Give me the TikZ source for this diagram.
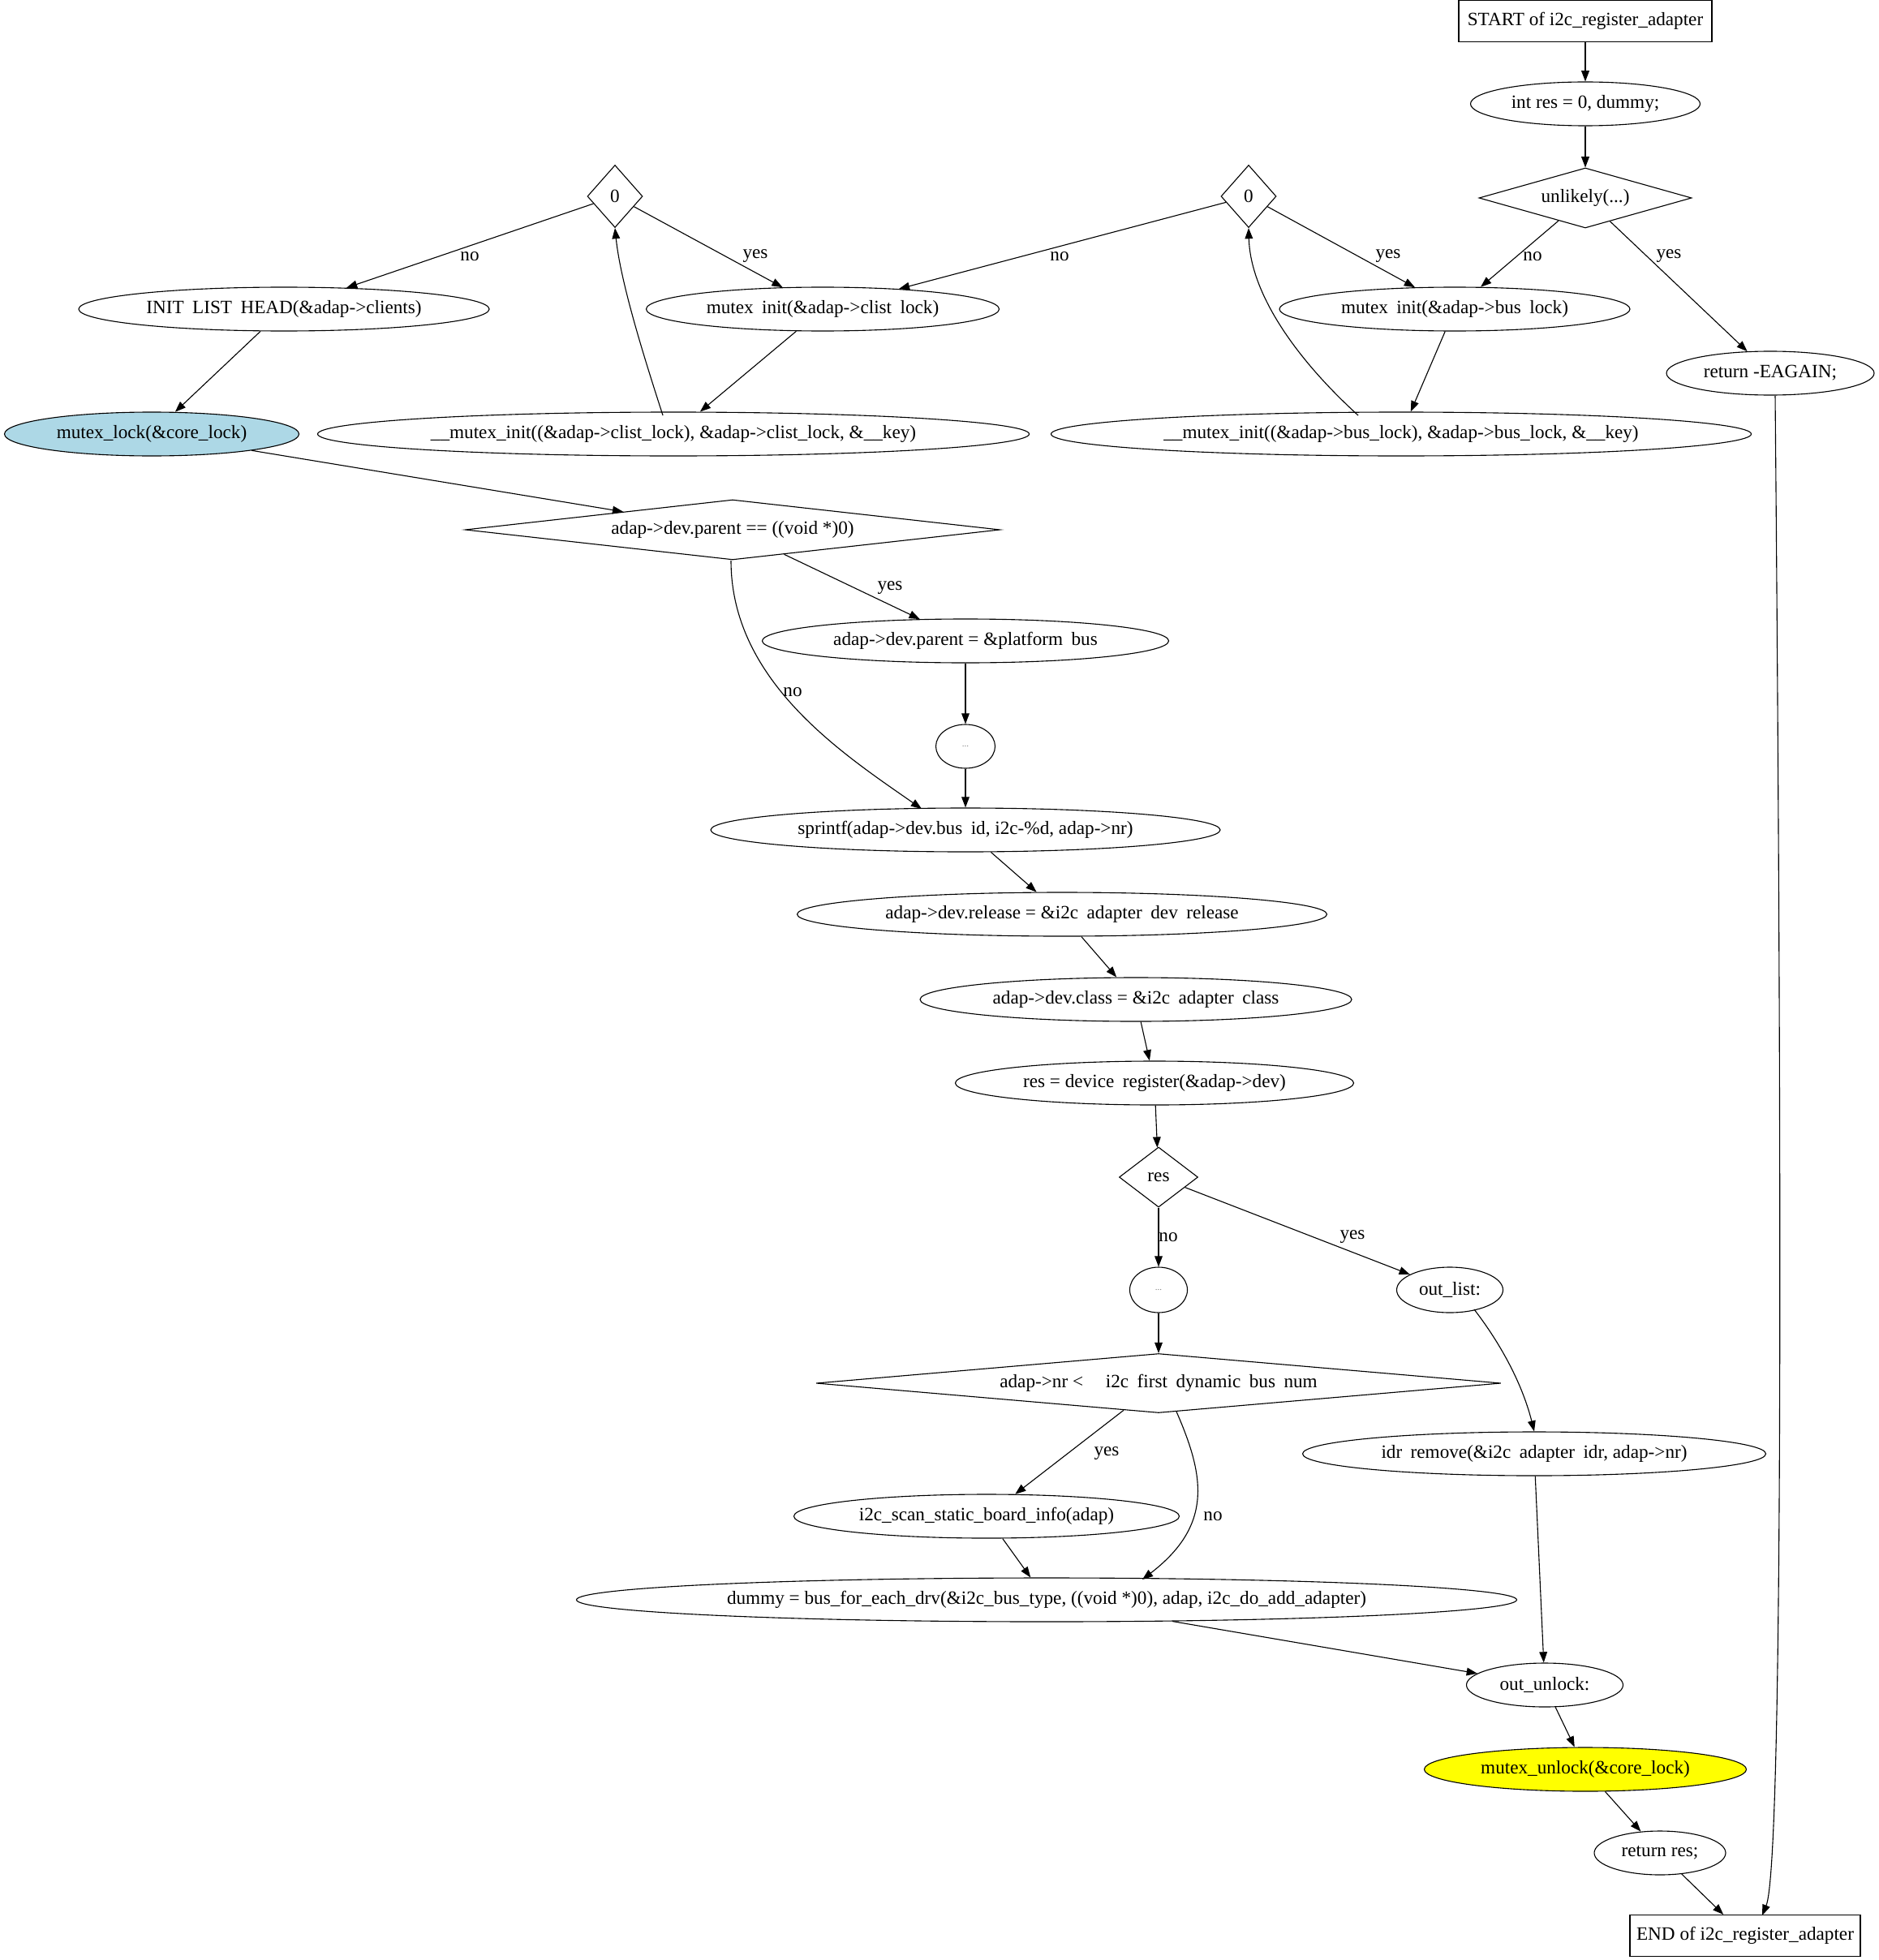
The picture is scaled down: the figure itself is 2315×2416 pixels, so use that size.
\documentclass[tikz,border=0pt]{standalone}
\usepackage{fontspec}
\setmainfont{Liberation Serif}
\usetikzlibrary{shapes.geometric,arrows.meta}
\definecolor{lblue}{RGB}{173,216,230}
\definecolor{gvyellow}{RGB}{255,255,0}
\newcommand\gp{\hspace{0.45em}}
\begin{document}
\begin{tikzpicture}[x=0.72pt,y=-0.72pt,
  font=\fontsize{16.7}{19}\selectfont,
  sz/.style 2 args={minimum width=#1*0.72pt, minimum height=#2*0.72pt},
  ell/.style={ellipse, draw, inner sep=0pt, line width=0.8pt},
  box/.style={rectangle, draw, inner sep=0pt, line width=0.8pt},
  dia/.style={diamond, draw, inner sep=0pt, line width=0.8pt},
  lbl/.style={inner sep=1pt},
  dots/.style={ellipse, draw, inner sep=0pt, line width=0.8pt, font=\fontsize{8}{9}\selectfont, text=gray},
  edge/.style={draw, line width=0.8pt, -{Triangle[length=9.5pt,width=7pt]}}
]
\useasboundingbox (0,0) rectangle (2315,2416);

% nodes
\node[box, sz={312}{51}] (start) at (1954,26) {START of i2c\_register\_adapter};
\node[ell, sz={283}{54}] (intres) at (1954,128) {int res = 0, dummy;};
\node[dia, sz={262}{74}, shape aspect=3.5] (unlikely) at (1954,244) {unlikely(...)};
\node[dia, sz={68}{77}, shape aspect=0.88] (zR) at (1539,242) {0};
\node[dia, sz={68}{77}, shape aspect=0.88] (zL) at (758,242) {0};
\node[ell, sz={506}{54}] (init) at (350,381) {INIT\gp LIST\gp HEAD(\&adap->clients)};
\node[ell, sz={435}{54}] (mclist) at (1014,381) {mutex\gp init(\&adap->clist\gp lock)};
\node[ell, sz={432}{54}] (mbus) at (1793,381) {mutex\gp init(\&adap->bus\gp lock)};
\node[ell, sz={256}{54}] (eagain) at (2182,460) {return -EAGAIN;};
\node[ell, sz={363}{54}, fill=lblue] (lock) at (187,535) {mutex\_lock(\&core\_lock)};
\node[ell, sz={877}{54}] (miclist) at (830,535) {\_\_mutex\_init((\&adap->clist\_lock), \&adap->clist\_lock, \&\_\_key)};
\node[ell, sz={863}{54}] (mibus) at (1727,535) {\_\_mutex\_init((\&adap->bus\_lock), \&adap->bus\_lock, \&\_\_key)};
\node[dia, sz={659}{74}, shape aspect=8.9] (parent) at (903,653) {adap->dev.parent == ((void *)0)};
\node[ell, sz={501}{54}] (platform) at (1190,790) {adap->dev.parent = \&platform\gp bus};
\node[dots, sz={73}{54}] (dotsA) at (1190,920) {...};
\node[ell, sz={628}{54}] (sprintf) at (1190,1023) {sprintf(adap->dev.bus\gp id, i2c-\%d, adap->nr)};
\node[ell, sz={653}{54}] (release) at (1309,1127) {adap->dev.release = \&i2c\gp adapter\gp dev\gp release};
\node[ell, sz={532}{54}] (class) at (1400,1232) {adap->dev.class = \&i2c\gp adapter\gp class};
\node[ell, sz={491}{54}] (devreg) at (1423,1335) {res = device\gp register(\&adap->dev)};
\node[dia, sz={97}{74}, shape aspect=1.3] (res) at (1428,1451) {res};
\node[dots, sz={71}{56}] (dotsB) at (1428,1590) {...};
\node[ell, sz={131}{56}] (outlist) at (1787,1590) {out\_list:};
\node[dia, sz={844}{73}, shape aspect=11.5] (nr) at (1428,1705) {adap->nr <\hspace{1.2em}i2c\gp first\gp dynamic\gp bus\gp num};
\node[ell, sz={571}{54}] (idr) at (1891,1792) {idr\gp remove(\&i2c\gp adapter\gp idr, adap->nr)};
\node[ell, sz={475}{54}] (scan) at (1216,1869) {i2c\_scan\_static\_board\_info(adap)};
\node[ell, sz={1159}{54}] (dummy) at (1290,1972) {dummy = bus\_for\_each\_drv(\&i2c\_bus\_type, ((void *)0), adap, i2c\_do\_add\_adapter)};
\node[ell, sz={193}{54}] (outunlock) at (1904,2077) {out\_unlock:};
\node[ell, sz={397}{54}, fill=gvyellow] (unlock) at (1954,2181) {mutex\_unlock(\&core\_lock)};
\node[ell, sz={162}{54}] (retres) at (2046,2284) {return res;};
\node[box, sz={284}{51}] (end) at (2151,2386) {END of i2c\_register\_adapter};

% edge labels
\node[lbl] (l1) at (1889,316) {no};
\node[lbl] (l2) at (2057,316) {yes};
\node[lbl] (l3) at (1711,316) {yes};
\node[lbl] (l4) at (1306,316) {no};
\node[lbl] (l5) at (579,316) {no};
\node[lbl] (l6) at (931,316) {yes};
\node[lbl] (l7) at (1097,725) {yes};
\node[lbl] (l8) at (977,853) {no};
\node[lbl] (l9) at (1440,1525) {no};
\node[lbl] (l10) at (1667,1525) {yes};
\node[lbl] (l11) at (1364,1792) {yes};
\node[lbl] (l12) at (1495,1869) {no};

% edges
\path[edge] (start) -- (intres);
\path[edge] (intres) -- (unlikely);
\path[edge] (unlikely) -- (mbus);
\path[edge] (unlikely) -- (eagain);
\path[edge] (zR) -- (mbus);
\path[edge] (zR) -- (mclist);
\path[edge] (mbus) -- (mibus);
\path[edge] (1674,512) .. controls (1595,440) and (1541,360) .. (zR.south);
\path[edge] (zL) -- (init);
\path[edge] (zL) -- (mclist);
\path[edge] (mclist) -- (miclist);
\path[edge] (817,512) .. controls (797,450) and (765,350) .. (zL.south);
\path[edge] (init) -- (lock);
\path[edge] (lock) -- (parent);
\path[edge] (parent) -- (platform);
\path[edge] (901,691) .. controls (901,840) and (1040,930) .. (1136,997);
\path[edge] (platform) -- (dotsA);
\path[edge] (dotsA) -- (sprintf);
\path[edge] (sprintf) -- (release);
\path[edge] (release) -- (class);
\path[edge] (class) -- (devreg);
\path[edge] (devreg) -- (res);
\path[edge] (res) -- (dotsB);
\path[edge] (res) -- (outlist);
\path[edge] (dotsB) -- (nr);
\path[edge] (1817,1614) .. controls (1860,1670) and (1880,1720) .. (idr.north);
\path[edge] (nr) -- (scan);
\path[edge] (1450,1740) .. controls (1485,1820) and (1495,1880) .. (1408,1947);
\path[edge] (scan) -- (dummy);
\path[edge] (dummy) -- (outunlock);
\path[edge] (idr) -- (outunlock);
\path[edge] (2188,488) .. controls (2197,1500) and (2197,2300) .. (2172,2361);
\path[edge] (outunlock) -- (unlock);
\path[edge] (unlock) -- (retres);
\path[edge] (retres) -- (end);
\end{tikzpicture}
\end{document}
